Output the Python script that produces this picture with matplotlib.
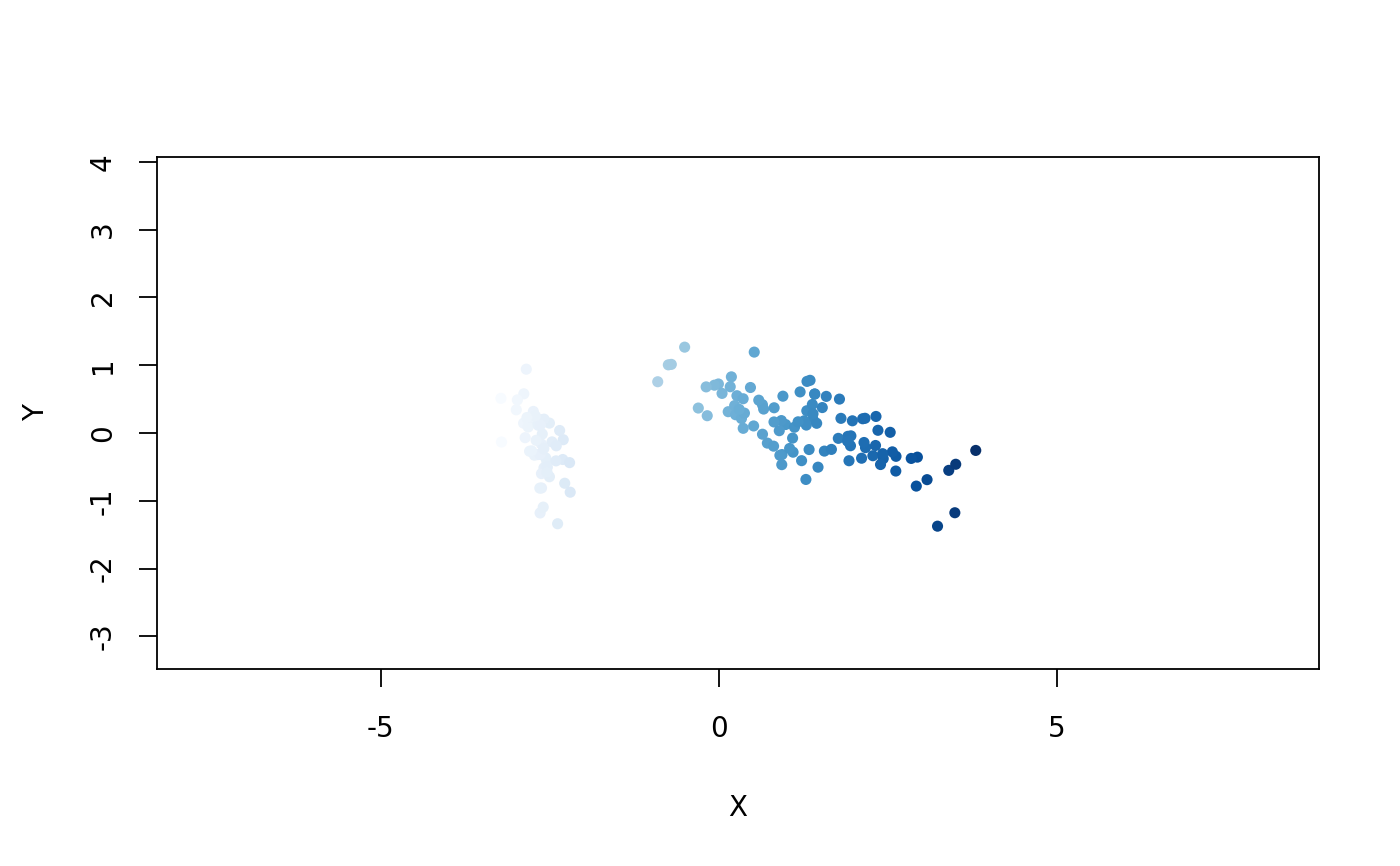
import numpy as np
import matplotlib
matplotlib.use("Agg")
from matplotlib import pyplot as plt

# scores (first two principal components)
pc1 = [
    -2.684, -2.714, -2.889, -2.745, -2.729, -2.281, -2.821, -2.626, -2.886, -2.673,
    -2.507, -2.613, -2.786, -3.224, -2.645, -2.386, -2.624, -2.648, -2.200, -2.588,
    -2.310, -2.544, -3.216, -2.303, -2.356, -2.507, -2.469, -2.562, -2.640, -2.632,
    -2.587, -2.410, -2.649, -2.599, -2.637, -2.866, -2.625, -2.801, -2.981, -2.590,
    -2.770, -2.849, -2.997, -2.406, -2.209, -2.714, -2.538, -2.839, -2.543, -2.703,
    1.285, 0.932, 1.464, 0.183, 1.088, 0.642, 1.095, -0.749, 1.044, -0.009,
    -0.508, 0.512, 0.265, 0.985, -0.174, 0.928, 0.660, 0.236, 0.945, 0.045,
    1.116, 0.358, 1.298, 0.922, 0.715, 0.900, 1.332, 1.558, 0.813, -0.306,
    -0.068, -0.190, 0.136, 1.380, 0.588, 0.807, 1.221, 0.815, 0.246, 0.166,
    0.465, 0.891, 0.231, -0.705, 0.357, 0.332, 0.376, 0.643, -0.906, 0.299,
    2.531, 1.415, 2.617, 1.972, 2.350, 3.397, 0.521, 2.933, 2.321, 2.917,
    1.662, 1.803, 2.166, 1.346, 1.586, 1.904, 1.950, 3.487, 3.796, 1.301,
    2.428, 1.199, 3.500, 1.389, 2.275, 2.614, 1.259, 1.291, 2.124, 2.388,
    2.842, 3.231, 2.159, 1.444, 1.781, 3.076, 2.144, 1.905, 1.169, 2.108,
    2.314, 1.922, 1.415, 2.563, 2.419, 1.944, 1.527, 1.764, 1.901, 1.390,
]
pc2 = [
    -0.319, 0.177, 0.145, 0.318, -0.327, -0.741, 0.089, -0.163, 0.578, 0.114,
    -0.645, -0.015, 0.235, 0.511, -1.179, -1.338, -0.811, -0.312, -0.873, -0.514,
    -0.391, -0.433, -0.133, -0.099, 0.037, 0.146, -0.131, -0.368, -0.312, 0.197,
    0.204, -0.411, -0.813, -1.093, 0.121, -0.069, -0.599, -0.269, 0.488, -0.229,
    -0.264, 0.941, 0.342, -0.189, -0.437, 0.250, -0.504, 0.228, -0.579, -0.108,
    -0.685, -0.318, -0.504, 0.828, -0.075, 0.418, -0.283, 1.005, -0.228, 0.723,
    1.266, 0.104, 0.550, 0.125, 0.255, -0.467, 0.353, 0.334, 0.543, 0.584,
    0.085, 0.069, 0.328, 0.183, -0.149, -0.329, -0.244, -0.267, 0.163, 0.368,
    0.705, 0.680, 0.314, 0.421, 0.484, -0.194, -0.408, 0.372, 0.269, 0.682,
    0.671, 0.034, 0.404, 1.012, 0.505, 0.213, 0.293, -0.018, 0.756, 0.349,
    0.010, 0.575, -0.344, 0.180, 0.040, -0.551, 1.193, -0.356, 0.244, -0.783,
    -0.242, 0.216, -0.216, 0.777, 0.540, -0.119, -0.042, -1.176, -0.257, 0.761,
    -0.378, 0.606, -0.461, 0.204, -0.335, -0.561, 0.180, 0.117, 0.210, -0.465,
    -0.375, -1.374, 0.217, 0.143, 0.500, -0.688, -0.140, -0.049, 0.165, -0.372,
    -0.184, -0.409, 0.575, -0.278, -0.305, -0.188, 0.375, -0.079, -0.117, 0.283,
]

x = np.array(pc1)
y = np.array(pc2)

fig = plt.figure(figsize=(14, 8.66), dpi=100)
ax = fig.add_axes([0.1121, 0.2275, 0.83, 0.5912])

norm = plt.Normalize(x.min(), x.max())
ax.scatter(x, y, c=x, cmap="Blues", norm=norm, s=64, linewidths=0, zorder=3)

ax.set_xlim(-8.31, 8.87)
ax.set_ylim(-3.48, 4.07)
ax.set_xticks([-5, 0, 5])
ax.set_yticks([-3, -2, -1, 0, 1, 2, 3, 4])
ax.set_yticklabels(["-3", "-2", "-1", "0", "1", "2", "3", "4"],
                   rotation=90, va="center")
ax.set_xticklabels(["-5", "0", "5"])

for s in ax.spines.values():
    s.set_linewidth(1.3)
ax.tick_params(axis="both", length=13, width=1.3, labelsize=20)
ax.tick_params(axis="x", pad=20)
ax.tick_params(axis="y", pad=16)

ax.set_xlabel("X", fontsize=20, labelpad=37)
ax.set_ylabel("Y", fontsize=20, labelpad=28)

fig.savefig("out.png", dpi=100)
